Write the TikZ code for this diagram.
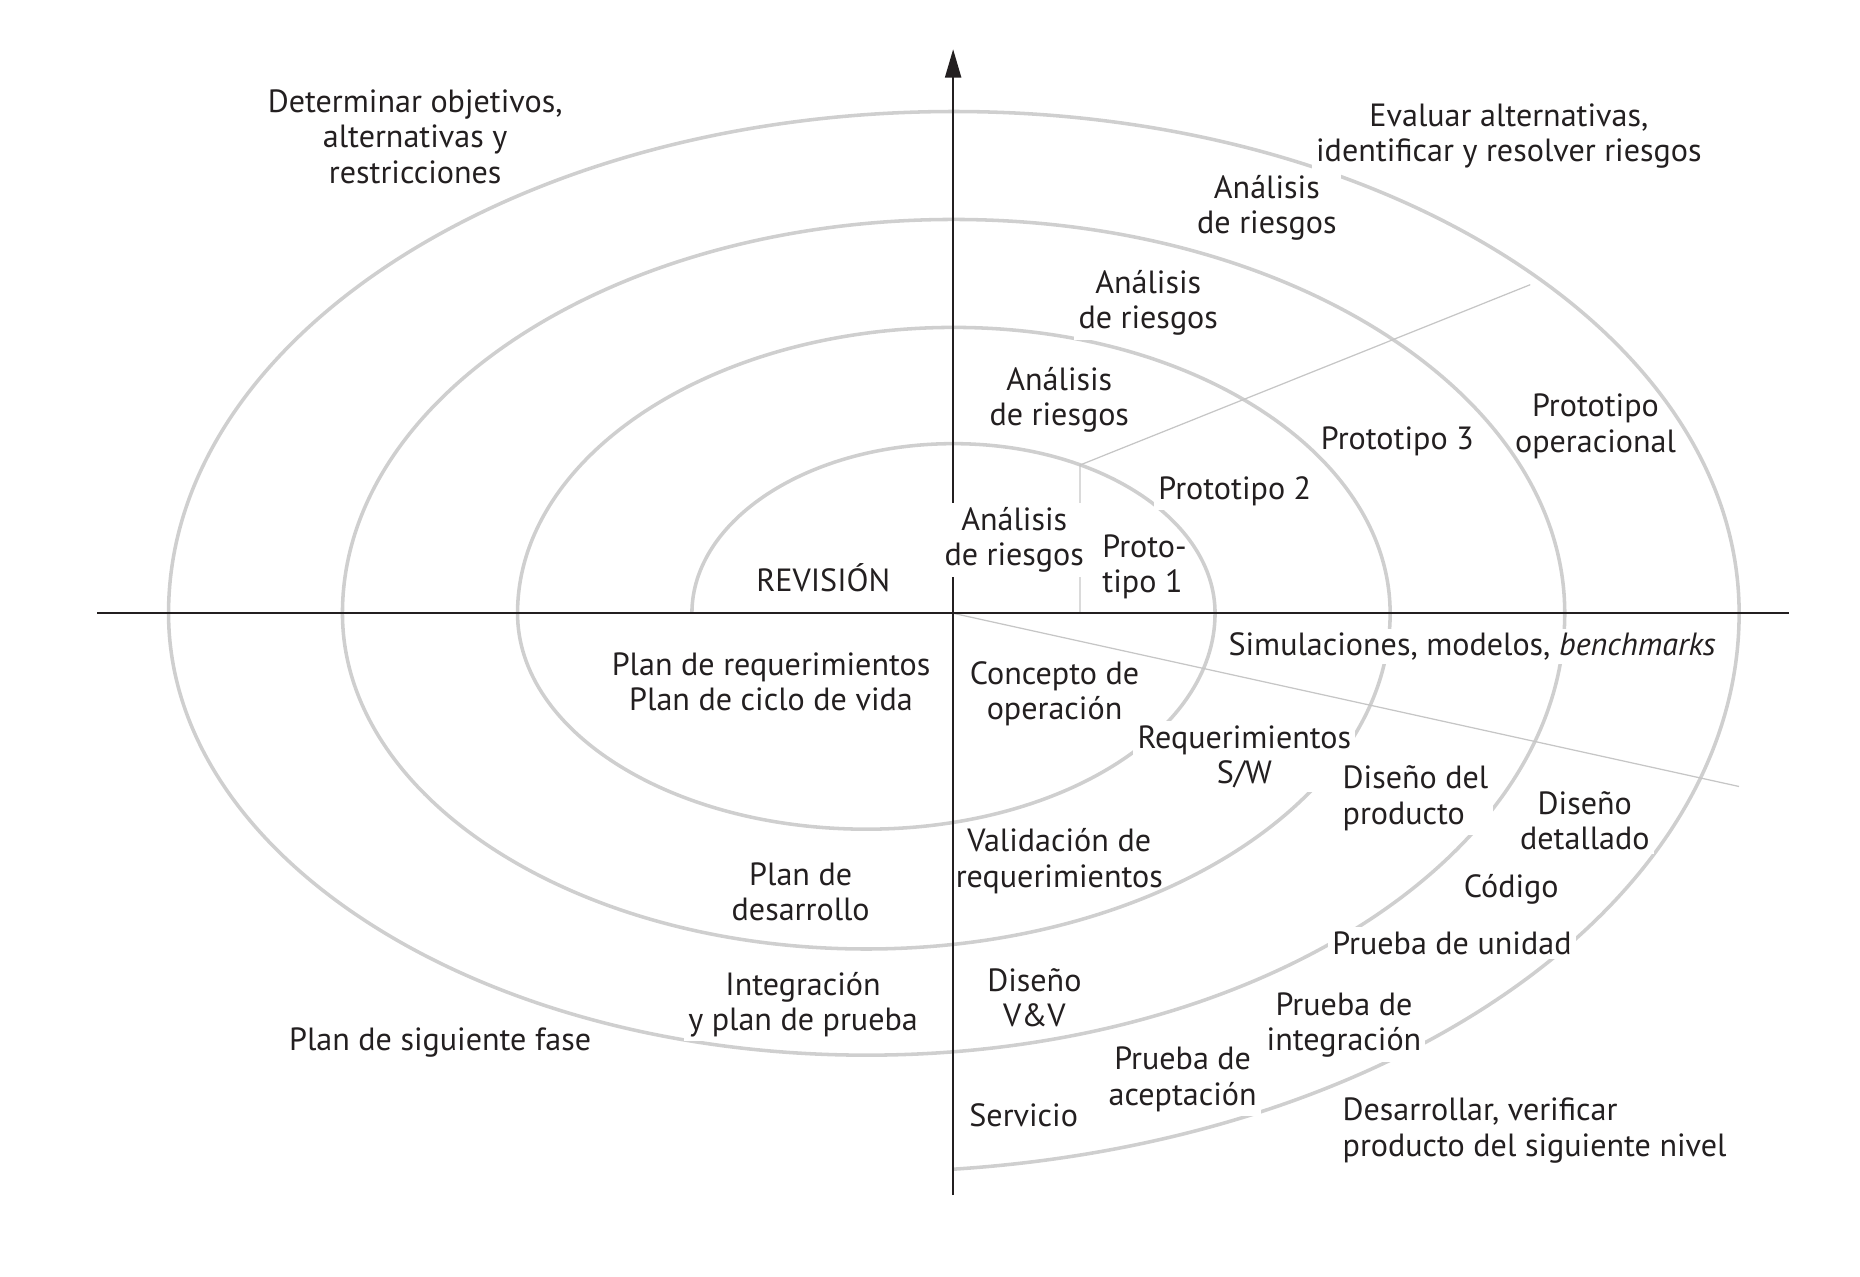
\documentclass[tikz,border=0pt]{standalone}
\usepackage{fontspec}
\setmainfont{PT Sans}
\usepackage{xcolor}
\definecolor{inkblack}{HTML}{231F20}
\definecolor{spiralgray}{HTML}{CFCFCF}
\definecolor{guidegray}{HTML}{C6C6C6}
\usepackage{tikz}
\usetikzlibrary{arrows.meta}
\tikzset{
  lbl/.style ={fill=white, text=inkblack, align=center, inner sep=2pt, font=\fontsize{15.4}{17}\selectfont},
  lbln/.style={lbl, fill=none},
  lbll/.style={lbl, align=left, anchor=west},
  spiral/.style={draw=spiralgray, line width=1.7pt},
  guide/.style ={draw=guidegray, line width=0.6pt},
  axisln/.style={draw=inkblack, line width=1.1pt},
  axisarr/.style={axisln, -{Triangle[length=4.8mm, width=2.7mm]}},
}

\begin{document}
\begin{tikzpicture}
  \useasboundingbox (-16.07,-11.18) rectangle (15.29,10.34);
  % spiral of half ellipses
  \draw[spiral] (-4.404,0)
    arc[start angle=180, end angle=0,     x radius=4.41,   y radius=2.86]
    arc[start angle=0,   end angle=-180,  x radius=5.88,   y radius=3.64]
    arc[start angle=180, end angle=0,     x radius=7.356,  y radius=4.82]
    arc[start angle=0,   end angle=-180,  x radius=8.832,  y radius=5.66]
    arc[start angle=180, end angle=0,     x radius=10.304, y radius=6.64]
    arc[start angle=0,   end angle=-180,  x radius=11.77,  y radius=7.45]
    arc[start angle=180, end angle=0,     x radius=13.24,  y radius=8.46]
    arc[start angle=0,   end angle=-84.3, x radius=14.71,  y radius=9.42];
  % guide lines
  \coordinate (o)   at (0,0);
  \coordinate (g1)  at (2.14,0);
  \coordinate (g2)  at (2.14,2.50);
  \coordinate (g3)  at (9.73,5.54);
  \coordinate (g4)  at (13.25,-2.92);
  \draw[guide] (g1) -- (g2) -- (g3);
  \draw[guide] (o) -- (g4);
  % axes
  \coordinate (xl) at (-14.43,0);
  \coordinate (xr) at (14.09,0);
  \coordinate (yb) at (0,-9.81);
  \coordinate (yt) at (0,9.51);
  \draw[axisln] (xl) -- (xr);
  \draw[axisarr] (yb) -- (yt);
  % labels
  \node[lbln] (obj) at (-9.07,8.04) {Determinar objetivos,\\alternativas y\\restricciones};
  \node[lbl] (eval) at (9.37,8.05)  {Evaluar alternativas,\\identificar y resolver riesgos};
  \node[lbl] (ar4)  at (5.29,6.84)  {Análisis\\de riesgos};
  \node[lbl] (ar3)  at (3.29,5.23)  {Análisis\\de riesgos};
  \node[lbl] (ar2)  at (1.79,3.60)  {Análisis\\de riesgos};
  \node[lbl] (ar1)  at (1.03,1.24)  {Análisis\\de riesgos};
  \node[lbll, fill=none] (pt1) at (2.44,0.78) {Proto-\\tipo 1};
  \node[lbl] (rev)  at (-2.19,0.60) {REVISIÓN};
  \node[lbl] (pt2)  at (4.75,2.06)  {Prototipo 2};
  \node[lbln] (pt3) at (7.49,2.90)  {Prototipo 3};
  \node[lbln] (pto) at (10.83,3.15) {Prototipo\\operacional};
  \node[lbl] (sim)  at (8.75,-0.56) {Simulaciones, modelos, \textit{benchmarks}};
  \node[lbl] (preq) at (-3.07,-1.16) {Plan de requerimientos\\Plan de ciclo de vida};
  \node[lbl] (cop)  at (1.71,-1.36) {Concepto de\\operación};
  \node[lbl] (rsw)  at (4.91,-2.42) {Requerimientos\\S/W};
  \node[lbll] (dpr) at (6.49,-3.12) {Diseño del\\producto};
  \node[lbl] (ddt)  at (10.65,-3.50) {Diseño\\detallado};
  \node[lbl] (cod)  at (9.41,-4.66) {Código};
  \node[lbl] (pun)  at (8.41,-5.56) {Prueba de unidad};
  \node[lbln] (vreq) at (1.79,-4.18) {Validación de\\requerimientos};
  \node[lbl] (pdes) at (-2.57,-4.70) {Plan de\\desarrollo};
  \node[lbl] (ipp)  at (-2.53,-6.60) {Integración\\y plan de prueba};
  \node[lbl] (psf)  at (-8.65,-7.24) {Plan de siguiente fase};
  \node[lbl] (dvv)  at (1.37,-6.48) {Diseño\\V\&V};
  \node[lbl] (pint) at (6.59,-6.94) {Prueba de\\integración};
  \node[lbl] (pace) at (3.87,-7.86) {Prueba de\\aceptación};
  \node[lbl] (serv) at (1.19,-8.46) {Servicio};
  \node[lbll] (dvp) at (6.49,-8.72) {Desarrollar, verificar\\producto del siguiente nivel};
\end{tikzpicture}
\end{document}
